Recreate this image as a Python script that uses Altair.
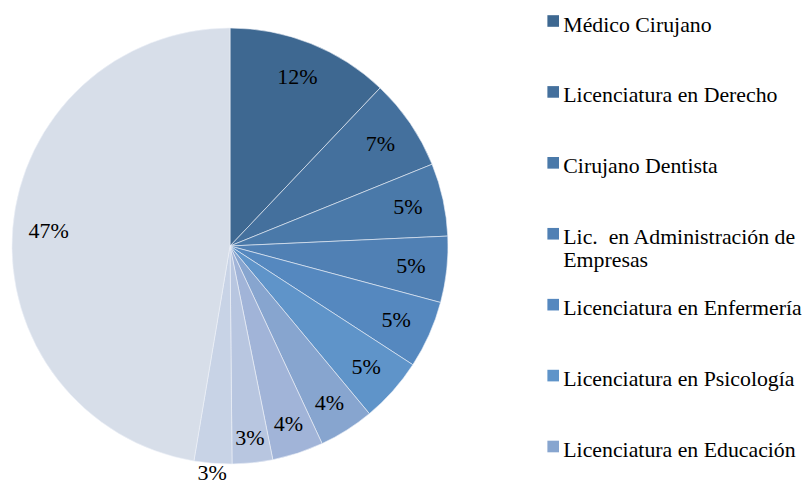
import altair as alt
import pandas as pd

categories = [
    "Médico Cirujano",
    "Licenciatura en Derecho",
    "Cirujano Dentista",
    "Lic.  en Administración de Empresas",
    "Licenciatura en Enfermería",
    "Licenciatura en Psicología",
    "Licenciatura en Educación",
    "Otra carrera 8",
    "Otra carrera 9",
    "Otra carrera 10",
    "Otras",
]
values = [12.1, 6.8, 5.4, 4.9, 5.0, 4.8, 4.1, 3.8, 3.0, 2.8, 47.4]
colors = [
    "#3e6891", "#44709d", "#4a79a9", "#5080b4", "#5588bf", "#5f94c9",
    "#87a5cf", "#a1b4d8", "#b8c6e0", "#c8d3e6", "#d7dee9",
]
legend_count = 7  # the reference legend only shows the first seven entries

df = pd.DataFrame({"cat": categories, "val": values, "idx": list(range(len(categories)))})

FONT = "Liberation Serif"
color_enc = alt.Color(
    "cat:N",
    scale=alt.Scale(domain=categories, range=colors),
    legend=None,
)

arcs = alt.Chart(df).mark_arc(stroke="#eef2f8", strokeWidth=0.6).encode(
    theta=alt.Theta("val:Q", stack=True),
    order=alt.Order("idx:Q"),
    color=color_enc,
)

labels = alt.Chart(df).transform_window(
    cum="sum(val)", sort=[alt.SortField("idx")], frame=[None, 0]
).transform_calculate(
    mid="datum.cum - datum.val / 2",
    lr="datum.idx == 9 ? 228 : 182 + max(0, 4.6 - datum.val) * 7",
    txt="format(datum.val, '.0f') + '%'",
).mark_text(font=FONT, fontSize=22, color="#000000").encode(
    theta=alt.Theta("mid:Q", stack=False),
    radius=alt.Radius("lr:Q", scale=None),
    text="txt:N",
)

leg_base = alt.Chart(df).transform_filter(
    f"datum.idx < {legend_count}"
).transform_calculate(
    lab="replace(replace(datum.cat, 'Lic.  en', 'Lic.\u00a0 en'), ' de Empresas', ' de|Empresas')"
).encode(
    y=alt.Y(
        "cat:N",
        sort=categories[:legend_count],
        scale=alt.Scale(type="point", padding=0, range=[-7, 418.5]),
        axis=None,
    ),
)

leg_sq = leg_base.mark_square(size=135, opacity=1).encode(
    x=alt.value(541.2),
    color=color_enc,
)
leg_txt = leg_base.mark_text(
    font=FONT, fontSize=21.8, color="#000000", align="left", baseline="alphabetic",
    lineBreak="|", lineHeight=23, dy=10.5,
).encode(
    x=alt.value(551.3),
    text="lab:N",
)

chart = alt.layer(arcs, labels, leg_sq, leg_txt).properties(
    width=436,
    height=436,
    autosize=alt.AutoSizeParams(type="none"),
    padding={"left": 4, "top": 20, "right": 356, "bottom": 23},
).configure_view(stroke=None)

chart.save("out.html", embed_options={"renderer": "svg", "actions": False})
